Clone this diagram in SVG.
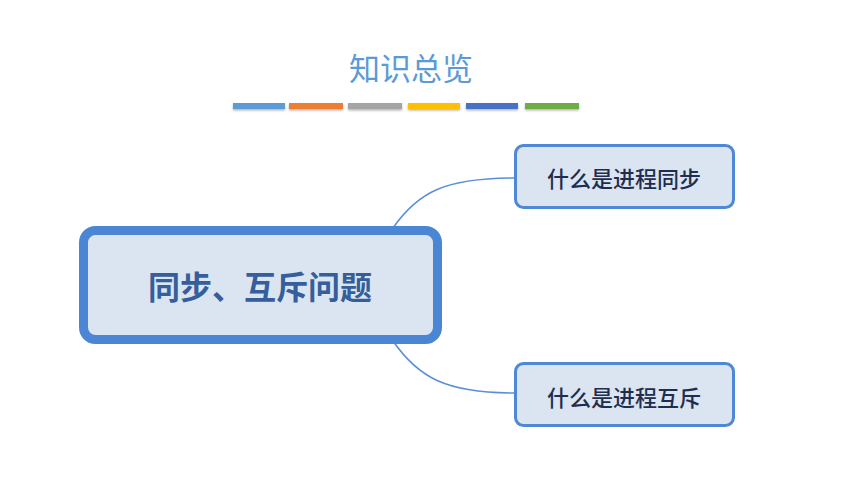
<svg xmlns="http://www.w3.org/2000/svg" width="855" height="490" viewBox="0 0 855 490">
<defs>
<style>
.conn{fill:none;stroke:#5B8FD8;stroke-width:1.6}
.child{fill:#DAE5F1;stroke:#4F88D6;stroke-width:3}
.ctext{font-family:"Noto Sans CJK SC","Noto Sans",sans-serif;font-size:22px;font-weight:500;fill:#1F2D4F;text-anchor:middle}
</style>
<filter id="sh" x="-10%" y="-50%" width="120%" height="250%">
<feDropShadow dx="0" dy="1.5" stdDeviation="1" flood-color="#000" flood-opacity="0.3"/>
</filter>
</defs>
<rect width="855" height="490" fill="#fff"/>
<g id="title">
<text x="411" y="80" font-family="Noto Sans CJK SC, sans-serif" font-size="31" fill="#5B9BD5" text-anchor="middle">知识总览</text>
<g filter="url(#sh)">
<rect x="233" y="103" width="52" height="6" fill="#5B9BD5"/>
<rect x="289" y="103" width="54" height="6" fill="#ED7D31"/>
<rect x="348" y="103" width="54" height="6" fill="#A5A5A5"/>
<rect x="408" y="103" width="52" height="6" fill="#FFC000"/>
<rect x="466" y="103" width="52" height="6" fill="#4472C4"/>
<rect x="525" y="103" width="54" height="6" fill="#70AD47"/>
</g>
</g>
<g id="connectors">
<path class="conn" d="M393 228 C 418 192, 445 178, 515 178"/>
<path class="conn" d="M393 341 C 418 377, 445 393, 515 393"/>
</g>
<g id="root">
<rect x="83.5" y="230.5" width="354" height="109" rx="12" fill="#DAE5F1" stroke="#4A86D4" stroke-width="9"/>
<text x="260" y="299" font-family="Noto Sans CJK SC, sans-serif" font-size="32" font-weight="bold" fill="#355E9A" text-anchor="middle">同步、互斥问题</text>
</g>
<g id="child1">
<rect class="child" x="515.5" y="145.5" width="218" height="62" rx="8"/>
<text class="ctext" x="624" y="187">什么是进程同步</text>
</g>
<g id="child2">
<rect class="child" x="515.5" y="363.5" width="218" height="62" rx="8"/>
<text class="ctext" x="624" y="406">什么是进程互斥</text>
</g>
</svg>
